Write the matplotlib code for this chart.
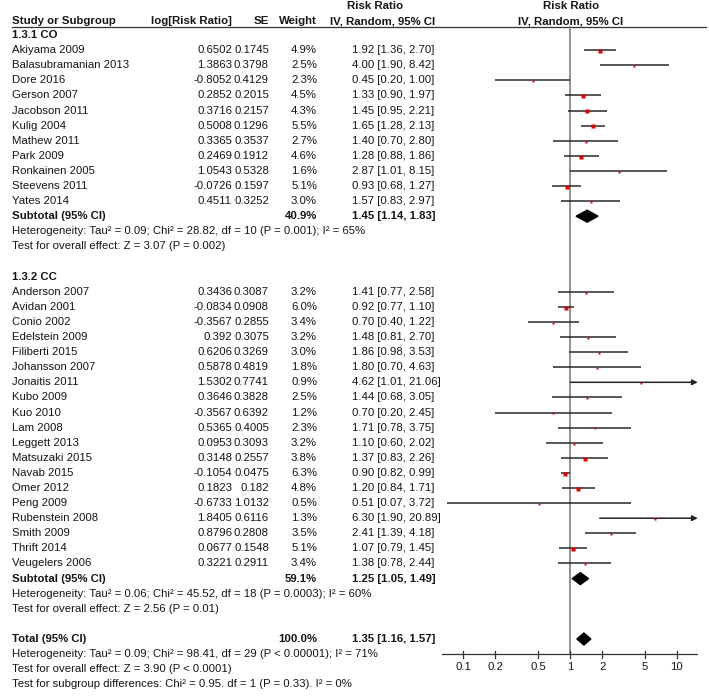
import numpy as np
import matplotlib
matplotlib.use('Agg')
import matplotlib.pyplot as plt

plt.rcParams['font.family'] = ['Liberation Sans', 'DejaVu Sans']

# ---------------------------------------------------------------------------
# data
# ---------------------------------------------------------------------------
co_study = ['Akiyama 2009', 'Balasubramanian 2013', 'Dore 2016', 'Gerson 2007',
            'Jacobson 2011', 'Kulig 2004', 'Mathew 2011', 'Park 2009',
            'Ronkainen 2005', 'Steevens 2011', 'Yates 2014']
co_logrr = ['0.6502', '1.3863', '-0.8052', '0.2852', '0.3716', '0.5008',
            '0.3365', '0.2469', '1.0543', '-0.0726', '0.4511']
co_se = ['0.1745', '0.3798', '0.4129', '0.2015', '0.2157', '0.1296',
         '0.3537', '0.1912', '0.5328', '0.1597', '0.3252']
co_weight = [4.9, 2.5, 2.3, 4.5, 4.3, 5.5, 2.7, 4.6, 1.6, 5.1, 3.0]
co_rr = [1.92, 4.00, 0.45, 1.33, 1.45, 1.65, 1.40, 1.28, 2.87, 0.93, 1.57]
co_lo = [1.36, 1.90, 0.20, 0.90, 0.95, 1.28, 0.70, 0.88, 1.01, 0.68, 0.83]
co_hi = [2.70, 8.42, 1.00, 1.97, 2.21, 2.13, 2.80, 1.86, 8.15, 1.27, 2.97]

cc_study = ['Anderson 2007', 'Avidan 2001', 'Conio 2002', 'Edelstein 2009',
            'Filiberti 2015', 'Johansson 2007', 'Jonaitis 2011', 'Kubo 2009',
            'Kuo 2010', 'Lam 2008', 'Leggett 2013', 'Matsuzaki 2015',
            'Navab 2015', 'Omer 2012', 'Peng 2009', 'Rubenstein 2008',
            'Smith 2009', 'Thrift 2014', 'Veugelers 2006']
cc_logrr = ['0.3436', '-0.0834', '-0.3567', '0.392', '0.6206', '0.5878',
            '1.5302', '0.3646', '-0.3567', '0.5365', '0.0953', '0.3148',
            '-0.1054', '0.1823', '-0.6733', '1.8405', '0.8796', '0.0677',
            '0.3221']
cc_se = ['0.3087', '0.0908', '0.2855', '0.3075', '0.3269', '0.4819',
         '0.7741', '0.3828', '0.6392', '0.4005', '0.3093', '0.2557',
         '0.0475', '0.182', '1.0132', '0.6116', '0.2808', '0.1548', '0.2911']
cc_weight = [3.2, 6.0, 3.4, 3.2, 3.0, 1.8, 0.9, 2.5, 1.2, 2.3, 3.2, 3.8,
             6.3, 4.8, 0.5, 1.3, 3.5, 5.1, 3.4]
cc_rr = [1.41, 0.92, 0.70, 1.48, 1.86, 1.80, 4.62, 1.44, 0.70, 1.71, 1.10,
         1.37, 0.90, 1.20, 0.51, 6.30, 2.41, 1.07, 1.38]
cc_lo = [0.77, 0.77, 0.40, 0.81, 0.98, 0.70, 1.01, 0.68, 0.20, 0.78, 0.60,
         0.83, 0.82, 0.84, 0.07, 1.90, 1.39, 0.79, 0.78]
cc_hi = [2.58, 1.10, 1.22, 2.70, 3.53, 4.63, 21.06, 3.05, 2.45, 3.75, 2.02,
         2.26, 0.99, 1.71, 3.72, 20.89, 4.18, 1.45, 2.44]

# subtotal / total: weight, rr, lo, hi
co_sub = (40.9, 1.45, 1.14, 1.83)
cc_sub = (59.1, 1.25, 1.05, 1.49)
total = (100.0, 1.35, 1.16, 1.57)

co_notes = ['Heterogeneity: Tau² = 0.09; Chi² = 28.82, df = 10 (P = 0.001); I² = 65%',
            'Test for overall effect: Z = 3.07 (P = 0.002)']
cc_notes = ['Heterogeneity: Tau² = 0.06; Chi² = 45.52, df = 18 (P = 0.0003); I² = 60%',
            'Test for overall effect: Z = 2.56 (P = 0.01)']
tot_notes = ['Heterogeneity: Tau² = 0.09; Chi² = 98.41, df = 29 (P < 0.00001); I² = 71%',
             'Test for overall effect: Z = 3.90 (P < 0.0001)',
             'Test for subgroup differences: Chi² = 0.95. df = 1 (P = 0.33). I² = 0%']

ticks = [0.1, 0.2, 0.5, 1, 2, 5, 10]
tick_labels = ['0.1', '0.2', '0.5', '1', '2', '5', '10']

# ---------------------------------------------------------------------------
W, H = 709, 696
FS = 8.2
TXT = '#151515'
XMIN, XMAX = 10**-1.2, 10**1.2

fig = plt.figure(figsize=(W/100, H/100), dpi=100)
ax = fig.add_axes([0, 0, 1, 1])
ax.set_xlim(0, W); ax.set_ylim(H, 0); ax.axis('off')
fax = fig.add_axes([442/W, 0, 256/W, 1])
fax.set_xscale('log')
fax.set_xlim(XMIN, XMAX); fax.set_ylim(H, 0); fax.axis('off')


def ry(r):
    # row index -> pixel y
    return 4.8 + r*15.1


X_NAME, X_LOG, X_SE, X_W, X_CI = 12.5, 232, 269, 317, 352


def txt(x, y, s, ha='left', bold=False):
    ax.text(x, y, s, ha=ha, va='center', fontsize=FS, color=TXT,
            fontweight='bold' if bold else 'normal')


# header
txt(375.5, 6, 'Risk Ratio', ha='center', bold=True)
txt(571, 6, 'Risk Ratio', ha='center', bold=True)
txt(X_NAME, 21, 'Study or Subgroup', bold=True)
txt(X_LOG, 21, 'log[Risk Ratio]', ha='right', bold=True)
txt(X_SE, 21, 'SE', ha='right', bold=True)
txt(X_W, 21, 'Weight', ha='right', bold=True)
txt(382.5, 21, 'IV, Random, 95% CI', ha='center', bold=True)
txt(571, 21, 'IV, Random, 95% CI', ha='center', bold=True)
ax.plot([12, 706], [27.3, 27.3], color='#333333', lw=0.9)


def study_rows(r0, names, logrr, se, wt, rr, lo, hi):
    for i in range(len(names)):
        y = ry(r0 + i)
        txt(X_NAME, y, names[i])
        txt(X_LOG, y, logrr[i], ha='right')
        txt(X_SE, y, se[i], ha='right')
        txt(X_W, y, f'{wt[i]:.1f}%', ha='right')
        txt(X_CI, y, f'{rr[i]:.2f} [{lo[i]:.2f}, {hi[i]:.2f}]')
        if hi[i] > XMAX:
            fax.annotate('', xy=(XMAX*0.995, y), xytext=(max(lo[i], XMIN), y),
                         arrowprops=dict(arrowstyle='-|>', color='#222222',
                                         lw=1.1, mutation_scale=8,
                                         shrinkA=0, shrinkB=0))
        else:
            fax.plot([max(lo[i], XMIN), hi[i]], [y, y], color='#2a2a2a',
                     lw=1.1, solid_capstyle='butt', zorder=3)
        fax.plot(rr[i], y + 0.8, 's', color='#e00000', mec='none',
                 ms=1.9 + 0.07*wt[i], zorder=4)


def diamond(y, rr, lo, hi, h=6):
    fax.fill([lo, rr, hi, rr], [y, y - h, y, y + h], color='black', zorder=4)


def summary_row(r, label, stats):
    y = ry(r)
    txt(X_NAME, y, label, bold=True)
    txt(X_W, y, f'{stats[0]:.1f}%', ha='right', bold=True)
    txt(X_CI, y, f'{stats[1]:.2f} [{stats[2]:.2f}, {stats[3]:.2f}]', bold=True)
    diamond(y, stats[1], stats[2], stats[3])


# 1.3.1 CO
txt(X_NAME, ry(2), '1.3.1 CO', bold=True)
study_rows(3, co_study, co_logrr, co_se, co_weight, co_rr, co_lo, co_hi)
summary_row(14, 'Subtotal (95% CI)', co_sub)
for k, s in enumerate(co_notes):
    txt(X_NAME, ry(15 + k), s)

# 1.3.2 CC
txt(X_NAME, ry(18), '1.3.2 CC', bold=True)
study_rows(19, cc_study, cc_logrr, cc_se, cc_weight, cc_rr, cc_lo, cc_hi)
summary_row(38, 'Subtotal (95% CI)', cc_sub)
for k, s in enumerate(cc_notes):
    txt(X_NAME, ry(39 + k), s)

# total
summary_row(42, 'Total (95% CI)', total)
for k, s in enumerate(tot_notes):
    txt(X_NAME, ry(43 + k), s)

# null line and x axis
AX_Y = 654
fax.plot([1, 1], [27.3, AX_Y], color='#7f7f7f', lw=1.2, zorder=2)
fax.plot([XMIN, XMAX], [AX_Y, AX_Y], color='#333333', lw=0.9)
for t, lab in zip(ticks, tick_labels):
    fax.plot([t, t], [AX_Y - 3.5, AX_Y + 3.5], color='#333333', lw=0.9)
    fax.text(t, 667, lab, ha='center', va='center', fontsize=FS, color=TXT)

fig.savefig('out.png', dpi=100)
